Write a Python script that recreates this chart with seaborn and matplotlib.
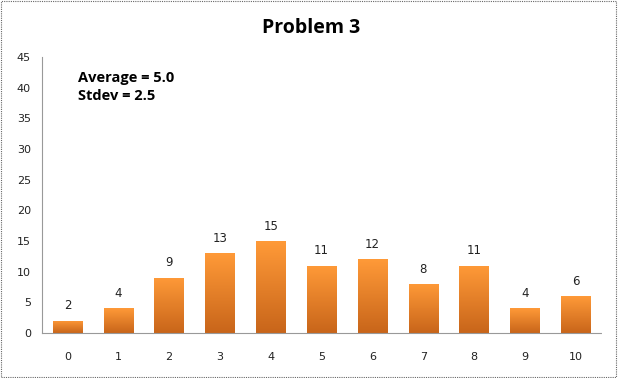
import numpy as np
import pandas as pd
import matplotlib
matplotlib.use("Agg")
import matplotlib.pyplot as plt
import seaborn as sns
from matplotlib.colors import LinearSegmentedColormap
from matplotlib.patches import Rectangle

scores = [0, 1, 2, 3, 4, 5, 6, 7, 8, 9, 10]
counts = [2, 4, 9, 13, 15, 11, 12, 8, 11, 4, 6]
title = "Problem 3"
stats_text = "Average = 5.0\nStdev = 2.5"

df = pd.DataFrame({"score": [str(s) for s in scores], "count": counts})

sns.set_theme(style="white")
plt.rcParams['font.family'] = ['DejaVu Sans']

fig = plt.figure(figsize=(6.18, 3.78), dpi=100)
ax = fig.add_axes([0.068, 0.119, 0.905, 0.730])

sns.barplot(data=df, x="score", y="count", color="#F08A24", width=0.58, ax=ax,
            saturation=1, edgecolor="none")

ax.set_ylim(0, 45)
ax.set_yticks(range(0, 46, 5))
ax.set_xlim(-0.5, len(scores) - 0.5)

# gradient fill on bars
cmap = LinearSegmentedColormap.from_list("og", ["#C8651A", "#FF9A38"])
grad = np.linspace(0, 1, 256).reshape(-1, 1)
for p in list(ax.patches):
    x0, y0 = p.get_x(), p.get_y()
    w, h = p.get_width(), p.get_height()
    im = ax.imshow(grad, extent=[x0, x0 + w, y0, y0 + h], origin="lower",
                   cmap=cmap, aspect="auto", zorder=2)
    im.set_clip_path(p)
    p.set_facecolor("none")
for c in ax.containers:
    ax.bar_label(c, labels=[str(v) for v in counts], padding=6, fontsize=8.5, color="#222222")
ax.set_xlim(-0.5, len(scores) - 0.5)
ax.set_ylim(0, 45)

for s in ["top", "right"]:
    ax.spines[s].set_visible(False)
for s in ["left", "bottom"]:
    ax.spines[s].set_color("#999999")
    ax.spines[s].set_linestyle((0, (1, 1)))
    ax.spines[s].set_linewidth(0.8)

ax.set_xlabel("")
ax.set_ylabel("")
ax.tick_params(axis="x", length=0, pad=14, labelsize=8, labelcolor="#222222")
ax.tick_params(axis="y", length=0, pad=8, labelsize=8, labelcolor="#222222")

fig.text(0.503, 0.925, title, ha="center", va="center", fontsize=14,
         fontweight="bold", family=["Open Sans", "DejaVu Sans"], color="black")
ax.text(0.064, 0.95, stats_text, transform=ax.transAxes, ha="left", va="top",
        fontsize=10.5, fontweight="bold", family=["Open Sans", "DejaVu Sans"],
        linespacing=1.35, color="black")

fig.patches.append(Rectangle((0.002, 0.003), 0.995, 0.994, transform=fig.transFigure,
                             fill=False, edgecolor="#666666", linestyle=(0, (1, 1)),
                             linewidth=0.8))

fig.savefig("out.png", dpi=100)
